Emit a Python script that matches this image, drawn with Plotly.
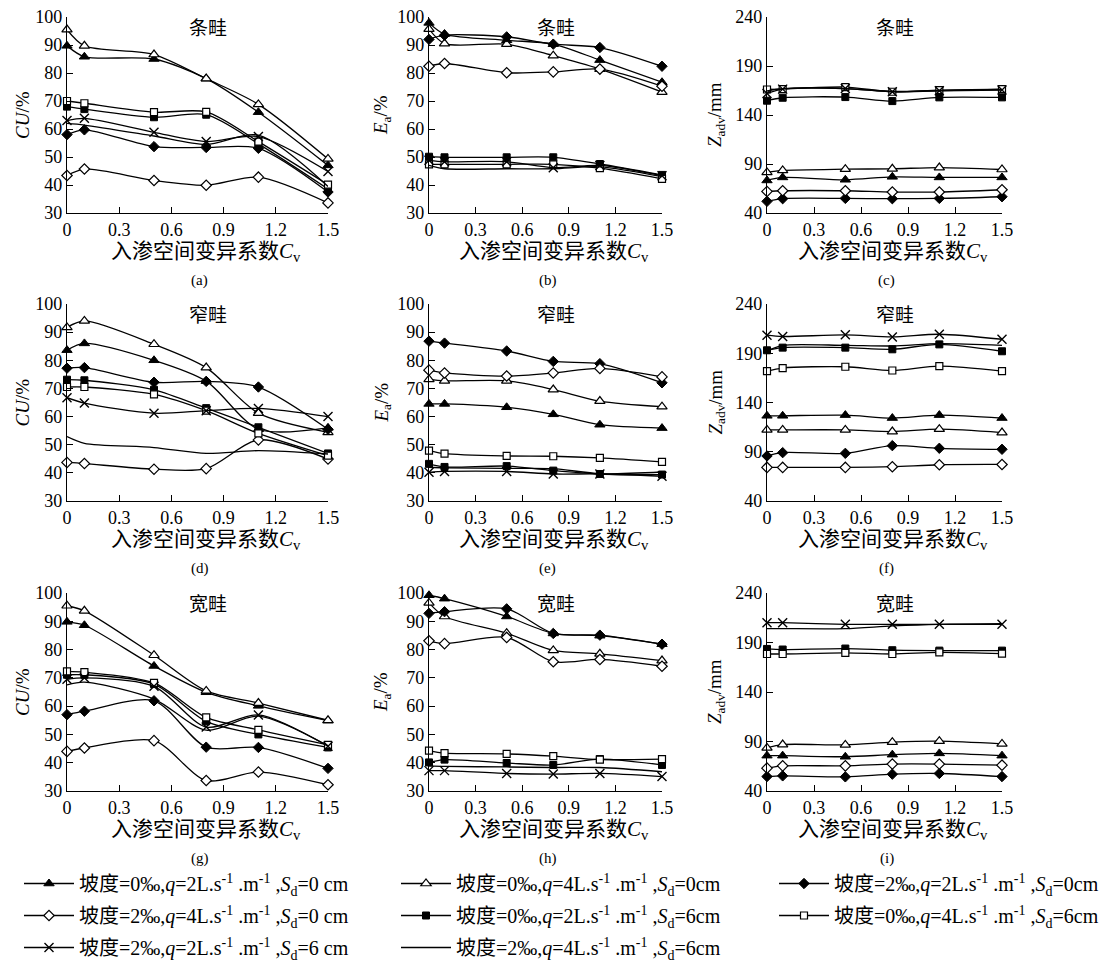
import plotly.graph_objects as go

# page body has an 8px margin: figure is drawn 8px right/down of the window origin
OFF = 8
FW, FH = 1116 - 2 * OFF, 971 - 2 * OFF

# ---------------- data ----------------
cv = [0, 0.1, 0.5, 0.8, 1.1, 1.5]
x_ticks = [0, 0.3, 0.6, 0.9, 1.2, 1.5]
x_ticklabels = ["0", "0.3", "0.6", "0.9", "1.2", "1.5"]

series_names = [
    "坡度=0‰,<i>q</i>=2L.s<sup>-1</sup> .m<sup>-1</sup> ,<i>S</i><sub>d</sub>=0 cm",
    "坡度=0‰,<i>q</i>=4L.s<sup>-1</sup> .m<sup>-1</sup> ,<i>S</i><sub>d</sub>=0cm",
    "坡度=2‰,<i>q</i>=2L.s<sup>-1</sup> .m<sup>-1</sup> ,<i>S</i><sub>d</sub>=0cm",
    "坡度=2‰,<i>q</i>=4L.s<sup>-1</sup> .m<sup>-1</sup> ,<i>S</i><sub>d</sub>=0 cm",
    "坡度=0‰,<i>q</i>=2L.s<sup>-1</sup> .m<sup>-1</sup> ,<i>S</i><sub>d</sub>=6cm",
    "坡度=0‰,<i>q</i>=4L.s<sup>-1</sup> .m<sup>-1</sup> ,<i>S</i><sub>d</sub>=6cm",
    "坡度=2‰,<i>q</i>=2L.s<sup>-1</sup> .m<sup>-1</sup> ,<i>S</i><sub>d</sub>=6 cm",
    "坡度=2‰,<i>q</i>=4L.s<sup>-1</sup> .m<sup>-1</sup> ,<i>S</i><sub>d</sub>=6cm",
]

# each panel: values for the 8 series in the order of series_names
cu_tiao = [
    [89.7, 85.8, 85.0, 78.0, 66.0, 47.0],
    [95.5, 89.7, 86.6, 78.0, 68.8, 49.3],
    [58.0, 59.7, 53.7, 53.4, 53.1, 37.5],
    [43.4, 45.7, 41.6, 39.9, 42.8, 33.6],
    [68.0, 67.1, 64.2, 65.1, 54.7, 38.6],
    [70.0, 69.2, 66.0, 66.1, 55.5, 40.1],
    [63.0, 63.8, 58.8, 55.5, 57.3, 44.8],
    [62.0, 61.4, 57.5, 54.5, 57.8, 39.5],
]
ea_tiao = [
    [97.9, 93.9, 91.7, 90.3, 84.6, 76.7],
    [95.7, 90.5, 90.3, 86.2, 81.4, 73.2],
    [92.0, 93.5, 92.9, 90.3, 89.1, 82.4],
    [82.4, 83.4, 80.1, 80.4, 81.4, 75.3],
    [50.1, 49.9, 49.9, 49.9, 47.5, 43.6],
    [47.4, 47.4, 47.4, 47.4, 46.0, 42.2],
    [48.8, 48.3, 48.3, 46.2, 47.0, 43.3],
    [47.0, 45.8, 45.8, 45.8, 46.5, 43.0],
]
z_tiao = [
    [73.2, 76.3, 73.9, 76.9, 76.3, 76.3],
    [81.4, 83.4, 84.7, 85.1, 86.4, 84.4],
    [51.9, 54.6, 54.9, 54.6, 54.9, 56.6],
    [62.0, 62.7, 62.7, 61.4, 61.4, 63.7],
    [154.6, 157.6, 158.3, 154.2, 158.0, 158.0],
    [166.0, 166.4, 168.5, 163.7, 165.4, 166.4],
    [162.0, 166.4, 167.0, 163.7, 164.7, 165.4],
    [164.5, 167.0, 167.0, 164.0, 165.0, 166.0],
]
cu_zhai = [
    [83.6, 86.0, 80.0, 72.6, 55.5, 56.0],
    [91.7, 94.0, 85.7, 77.4, 61.2, 54.4],
    [77.2, 77.4, 72.2, 72.5, 70.5, 55.5],
    [43.7, 43.3, 41.3, 41.5, 51.7, 44.9],
    [73.1, 72.9, 69.5, 63.0, 56.2, 46.9],
    [70.5, 70.5, 67.9, 62.1, 54.0, 46.1],
    [66.7, 64.8, 61.2, 62.1, 62.9, 60.0],
    [52.9, 50.5, 49.0, 46.9, 47.9, 46.7],
]
ea_zhai = [
    [64.5, 64.5, 63.3, 60.8, 57.1, 55.9],
    [73.2, 72.7, 72.7, 69.6, 65.5, 63.5],
    [86.8, 86.1, 83.3, 79.6, 78.8, 72.0],
    [76.5, 75.5, 74.4, 75.5, 77.1, 74.1],
    [43.2, 42.1, 42.4, 40.8, 39.6, 39.4],
    [47.9, 46.8, 46.0, 45.9, 45.3, 43.9],
    [40.2, 40.5, 40.5, 39.6, 39.6, 38.8],
    [42.0, 41.8, 41.6, 41.5, 39.7, 40.3],
]
z_zhai = [
    [126.5, 126.5, 127.2, 124.2, 127.2, 124.2],
    [112.2, 112.2, 112.2, 110.5, 112.9, 109.5],
    [85.7, 89.1, 88.4, 96.2, 93.5, 92.5],
    [74.1, 74.1, 74.1, 74.8, 76.8, 77.1],
    [193.0, 195.7, 195.7, 194.0, 199.0, 192.0],
    [171.9, 175.0, 176.3, 172.5, 177.0, 171.9],
    [208.3, 207.0, 208.7, 206.6, 209.3, 204.2],
    [192.3, 198.0, 198.0, 197.4, 199.8, 198.0],
]
cu_kuan = [
    [89.8, 88.6, 74.2, 64.9, 60.1, 54.9],
    [95.5, 93.7, 78.0, 65.4, 61.1, 55.0],
    [57.0, 58.2, 61.9, 45.5, 45.4, 38.0],
    [44.0, 45.2, 47.8, 33.7, 36.7, 32.2],
    [71.1, 71.1, 67.8, 54.6, 50.0, 45.4],
    [72.3, 72.0, 68.2, 56.0, 51.6, 46.3],
    [69.5, 70.0, 67.0, 52.6, 56.9, 45.8],
    [67.5, 68.5, 62.5, 51.5, 56.5, 46.0],
]
ea_kuan = [
    [99.2, 98.0, 91.7, 85.7, 84.9, 81.9],
    [96.5, 91.7, 85.8, 79.7, 78.5, 76.1],
    [92.8, 93.4, 94.4, 85.7, 85.1, 81.9],
    [83.1, 82.1, 84.3, 75.7, 76.5, 74.1],
    [40.1, 41.1, 39.9, 39.2, 41.3, 39.2],
    [44.3, 43.4, 43.1, 42.3, 41.1, 41.3],
    [37.2, 37.2, 36.2, 36.0, 36.2, 35.1],
    [38.9, 38.7, 38.5, 38.3, 38.3, 36.8],
]
z_kuan = [
    [75.7, 75.7, 74.6, 76.7, 78.0, 75.7],
    [83.5, 86.9, 86.6, 89.3, 90.3, 87.6],
    [54.6, 55.3, 54.3, 57.0, 57.7, 54.6],
    [63.1, 65.4, 65.4, 67.2, 67.2, 66.1],
    [183.5, 182.9, 183.9, 182.2, 181.8, 181.8],
    [178.4, 178.4, 179.5, 178.4, 180.1, 178.8],
    [210.0, 210.0, 208.4, 208.4, 208.4, 208.4],
    [204.0, 204.0, 204.0, 206.7, 208.4, 209.0],
]

panel_titles = ["条畦", "窄畦", "宽畦"]
panel_letters = ["(a)", "(b)", "(c)", "(d)", "(e)", "(f)", "(g)", "(h)", "(i)"]
y_titles = ["<i>CU</i>/%", "<i>E</i><sub>a</sub>/%", "<i>Z</i><sub>adv</sub>/mm"]
x_title = "入渗空间变异系数<i>C</i><sub>v</sub>"
y_ranges = [[30, 100], [30, 100], [40, 240]]
y_dticks = [10, 10, 50]

panels = [cu_tiao, ea_tiao, z_tiao,
          cu_zhai, ea_zhai, z_zhai,
          cu_kuan, ea_kuan, z_kuan]

# ---------------- styles ----------------
marker_styles = [
    dict(symbol="triangle-up", color="black", size=9, line=dict(color="black", width=1)),
    dict(symbol="triangle-up", color="white", size=9, line=dict(color="black", width=1.2)),
    dict(symbol="diamond", color="black", size=8, line=dict(color="black", width=1)),
    dict(symbol="diamond", color="white", size=8, line=dict(color="black", width=1.2)),
    dict(symbol="square", color="black", size=7, line=dict(color="black", width=1)),
    dict(symbol="square", color="white", size=7, line=dict(color="black", width=1.2)),
    dict(symbol="x-thin", color="black", size=9, line=dict(color="black", width=1.4)),
    None,
]
legend_of = ["legend", "legend2", "legend3", "legend", "legend2", "legend3", "legend", "legend2"]

SERIF = "Liberation Serif, Noto Sans CJK SC, serif"


def px(sx):
    return (sx - OFF) / FW


def py(sy):
    return 1 - (sy - OFF) / FH


cols_px = [(67, 328), (429, 662), (767, 1002)]
rows_px = [(17, 213), (304, 501), (593, 791)]

fig = go.Figure()
layout = dict()
annotations = []

for p, data in enumerate(panels):
    r, c = divmod(p, 3)
    idx = "" if p == 0 else str(p + 1)
    xa, ya = "x" + idx, "y" + idx
    x0, x1 = cols_px[c]
    top, bot = rows_px[r]
    axis_common = dict(
        showline=True, linecolor="black", linewidth=1.3, mirror=False,
        ticks="inside", ticklen=6, tickwidth=1, tickcolor="black",
        showgrid=False, zeroline=False, automargin=False,
        ticklabeloverflow="allow",
        tickfont=dict(family=SERIF, size=18, color="black"),
    )
    layout["xaxis" + idx] = dict(
        axis_common, domain=[px(x0), px(x1)], range=[0, 1.5], anchor=ya,
        tickvals=x_ticks, ticktext=x_ticklabels,
    )
    layout["yaxis" + idx] = dict(
        axis_common, domain=[py(bot), py(top)], range=y_ranges[c],
        dtick=y_dticks[c], tick0=y_ranges[c][0], anchor=xa,
    )
    for s in range(8):
        ms = marker_styles[s]
        tr = dict(
            x=cv, y=data[s], xaxis=xa, yaxis=ya, name=series_names[s],
            line=dict(color="black", width=1.3, shape="spline", smoothing=0.8),
            cliponaxis=False,
            showlegend=(p == 0), legend=legend_of[s], legendgroup="g%d" % s,
        )
        if ms is None:
            tr["mode"] = "lines"
        else:
            tr["mode"] = "lines+markers"
            tr["marker"] = ms
        fig.add_trace(go.Scatter(**tr))

    cx = (x0 + x1) / 2
    ann = dict(xref="paper", yref="paper", showarrow=False,
               xanchor="center", yanchor="middle")
    annotations.append(dict(
        ann, text=panel_titles[r], x=px(cx + 10), y=py(top + 11),
        font=dict(family=SERIF, size=19, color="black")))
    annotations.append(dict(
        ann, text=x_title, x=px(cx + 8), y=py(bot + 39),
        font=dict(family=SERIF, size=21, color="black")))
    annotations.append(dict(
        ann, text=panel_letters[p], x=px(cx + 2), y=py(bot + 67),
        font=dict(family=SERIF, size=15, color="black")))
    ytx = [22, 382, 716][c]
    annotations.append(dict(
        ann, text=y_titles[c], x=px(ytx), y=py((top + bot) / 2),
        textangle=-90, font=dict(family=SERIF, size=19, color="black")))

leg_common = dict(
    orientation="v", yanchor="top", xanchor="left",
    font=dict(family=SERIF, size=20, color="black"),
    itemwidth=50, tracegroupgap=3, bgcolor="rgba(0,0,0,0)",
    itemclick=False, itemdoubleclick=False,
)
layout["legend"] = dict(leg_common, x=px(19), y=py(864))
layout["legend2"] = dict(leg_common, x=px(396), y=py(864))
layout["legend3"] = dict(leg_common, x=px(774), y=py(864))

fig.update_layout(
    **layout,
    annotations=annotations,
    width=FW, height=FH,
    margin=dict(l=0, r=0, t=0, b=0, autoexpand=False),
    paper_bgcolor="white", plot_bgcolor="white",
    font=dict(family=SERIF, color="black"),
)

fig.write_html("out.html")
